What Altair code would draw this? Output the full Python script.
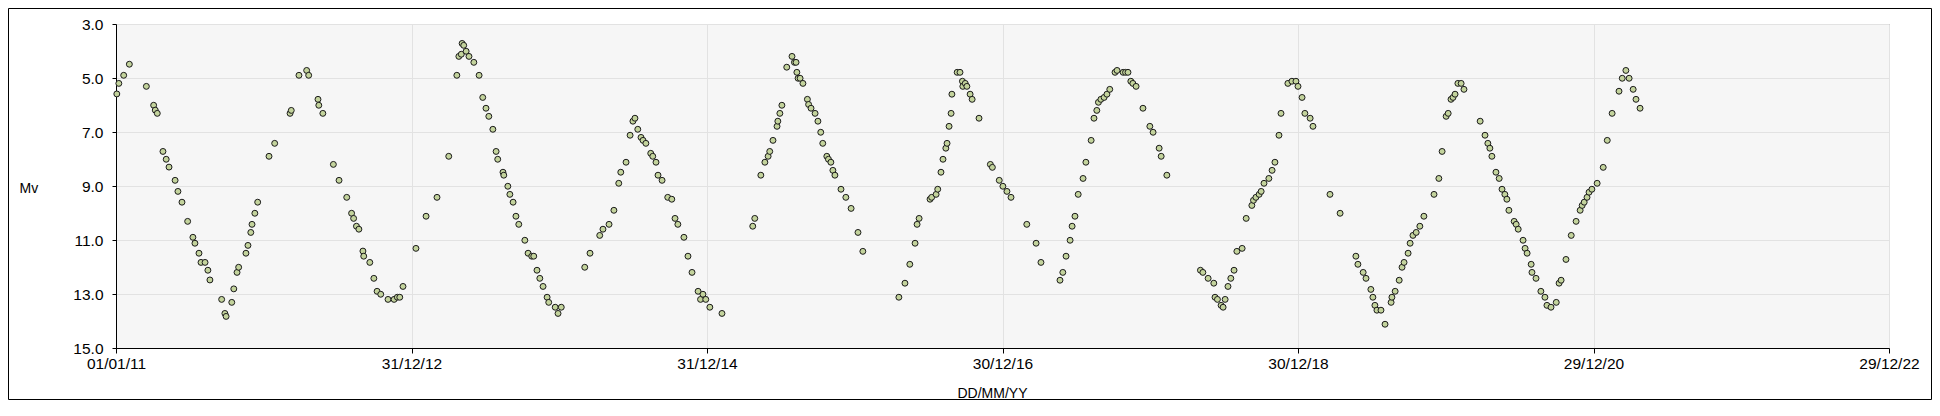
import altair as alt
import pandas as pd

# Observation epochs: days after 01/01/2011, with visual magnitude Mv
days_2011 = [2, 7, 19, 33, 75, 93, 97, 102, 116, 124, 131, 146, 153, 163, 177, 190, 195, 205, 210, 220,
             227, 232, 261, 269, 272, 286, 291, 299, 303, 321, 326, 333, 336, 343, 350, 378, 392, 430, 433,
             452, 471, 476, 499, 501, 511]
mags_2011 = [5.59, 5.20, 4.90, 4.49, 5.31, 6.01, 6.19, 6.31, 7.72, 8.01, 8.30, 8.79, 9.20, 9.60, 10.31,
             10.90, 11.12, 11.49, 11.83, 11.83, 12.12, 12.48, 13.20, 13.72, 13.83, 13.31, 12.81, 12.20,
             12.01, 11.49, 11.20, 10.72, 10.42, 10.01, 9.60, 7.90, 7.42, 6.31, 6.20, 4.90, 4.72, 4.90,
             5.79, 6.01, 6.31]

days_2012 = [537, 551, 570, 582, 587, 594, 600, 610, 612, 627, 637, 645, 654, 672, 687, 695, 701, 709,
             741, 766, 793, 822, 842, 847, 853, 855, 859, 865, 872, 884, 897, 906, 914, 921, 931, 939,
             943, 956, 958, 968, 973, 981, 988, 995, 1010, 1018, 1027, 1032, 1040, 1047, 1055, 1065, 1069]
mags_2012 = [8.20, 8.79, 9.42, 10.01, 10.20, 10.49, 10.60, 11.41, 11.60, 11.83, 12.42, 12.90, 13.01,
             13.20, 13.20, 13.12, 13.12, 12.72, 11.31, 10.12, 9.42, 7.90, 4.90, 4.20, 4.12, 3.72, 3.79,
             4.01, 4.20, 4.42, 4.90, 5.72, 6.12, 6.42, 6.90, 7.72, 8.01, 8.49, 8.60, 9.01, 9.31, 9.60,
             10.12, 10.42, 11.01, 11.49, 11.60, 11.60, 12.12, 12.42, 12.72, 13.12, 13.31]

days_2014 = [1085, 1092, 1100, 1158, 1171, 1195, 1203, 1218, 1230, 1242, 1247, 1260, 1270, 1277, 1282,
             1289, 1297, 1302, 1309, 1321, 1326, 1334, 1339, 1349, 1363, 1373, 1381, 1388, 1403, 1413,
             1423, 1438, 1444, 1450, 1457, 1467, 1497, 1573, 1578, 1593, 1603, 1611]
mags_2014 = [13.49, 13.72, 13.49, 12.01, 11.49, 10.83, 10.60, 10.42, 9.90, 8.90, 8.49, 8.12, 7.12, 6.60,
             6.49, 6.90, 7.20, 7.31, 7.42, 7.79, 7.90, 8.12, 8.60, 8.79, 9.42, 9.49, 10.20, 10.42, 10.90,
             11.60, 12.20, 12.90, 13.20, 13.01, 13.20, 13.49, 13.72, 10.49, 10.20, 8.60, 8.12, 7.90]

days_2015 = [1615, 1623, 1633, 1635, 1640, 1645, 1657, 1670, 1676, 1680, 1682, 1685, 1690, 1697, 1708,
             1711, 1717, 1727, 1734, 1741, 1746, 1756, 1760, 1766, 1771, 1776, 1791, 1803, 1816, 1833,
             1845, 1934, 1949, 1961, 1974, 1979, 1984, 2011, 2015, 2026, 2030, 2038, 2043, 2050, 2053,
             2058, 2063, 2065, 2078, 2085, 2091, 2092, 2098, 2102, 2110, 2115, 2132]
mags_2015 = [7.72, 7.31, 6.79, 6.60, 6.31, 6.01, 4.60, 4.20, 4.42, 4.42, 4.79, 5.01, 5.01, 5.20, 5.79,
             5.98, 6.12, 6.31, 6.60, 7.01, 7.42, 7.90, 8.01, 8.12, 8.42, 8.60, 9.12, 9.42, 9.83, 10.72,
             11.42, 13.12, 12.60, 11.90, 11.12, 10.42, 10.20, 9.49, 9.42, 9.31, 9.12, 8.49, 8.01, 7.60,
             7.42, 6.79, 6.31, 5.60, 4.79, 4.79, 5.12, 5.31, 5.20, 5.31, 5.60, 5.79, 6.49]

days_2017 = [2160, 2165, 2182, 2191, 2201, 2211, 2250, 2273, 2285, 2332, 2339, 2347, 2357, 2362, 2369,
             2377, 2389, 2396, 2409, 2416, 2423, 2427, 2433, 2441, 2448, 2455, 2468, 2473, 2488, 2494,
             2500, 2507, 2512, 2520, 2537, 2554, 2562, 2577, 2582, 2596, 2679, 2685, 2698]
mags_2017 = [8.20, 8.31, 8.79, 9.01, 9.20, 9.42, 10.42, 11.12, 11.83, 12.49, 12.20, 11.60, 11.01, 10.49,
             10.12, 9.31, 8.72, 8.12, 7.31, 6.49, 6.20, 5.90, 5.79, 5.72, 5.60, 5.42, 4.79, 4.72, 4.79,
             4.79, 4.79, 5.12, 5.20, 5.31, 6.12, 6.79, 7.01, 7.60, 7.90, 8.60, 12.12, 12.20, 12.42]

days_2018 = [2712, 2715, 2721, 2730, 2735, 2740, 2747, 2754, 2762, 2769, 2782, 2792, 2806, 2810, 2816,
             2824, 2829, 2836, 2848, 2856, 2863, 2873, 2878, 2895, 2905, 2915, 2920, 2930, 2937, 2950,
             2957, 2999, 3024, 3063, 3068, 3081, 3088, 3100, 3105, 3110, 3115, 3125, 3135, 3150, 3152,
             3160, 3170, 3177, 3182, 3192, 3197, 3204, 3212, 3221, 3231]
mags_2018 = [12.60, 13.12, 13.20, 13.42, 13.49, 13.20, 12.72, 12.42, 12.12, 11.42, 11.31, 10.20, 9.72,
             9.53, 9.42, 9.31, 9.20, 8.90, 8.72, 8.42, 8.12, 7.12, 6.31, 5.20, 5.12, 5.12, 5.31, 5.72,
             6.31, 6.49, 6.79, 9.31, 10.01, 11.60, 11.90, 12.20, 12.42, 12.83, 13.12, 13.42, 13.60, 13.60,
             14.12, 13.31, 13.12, 12.90, 12.49, 12.01, 11.83, 11.49, 11.12, 10.83, 10.72, 10.49, 10.12]

days_2019 = [3256, 3268, 3276, 3286, 3291, 3298, 3303, 3308, 3315, 3323, 3330, 3370, 3382, 3389, 3394,
             3399, 3409, 3417, 3424, 3431, 3436, 3441, 3454, 3459, 3464, 3476, 3481, 3486, 3496, 3498,
             3508, 3520, 3530, 3535, 3545, 3558, 3565, 3570, 3582, 3595, 3607, 3617, 3622, 3627, 3634,
             3639, 3646, 3659, 3674, 3684, 3696, 3713, 3721, 3730, 3738, 3748, 3755, 3765]
mags_2019 = [9.31, 8.72, 7.72, 6.42, 6.31, 5.79, 5.72, 5.60, 5.20, 5.20, 5.42, 6.60, 7.12, 7.42, 7.60,
             7.90, 8.49, 8.72, 9.12, 9.31, 9.49, 9.90, 10.31, 10.42, 10.60, 11.01, 11.31, 11.49, 11.90,
             12.20, 12.42, 12.90, 13.12, 13.42, 13.49, 13.31, 12.60, 12.49, 11.72, 10.83, 10.31, 9.90,
             9.72, 9.60, 9.42, 9.23, 9.12, 8.90, 8.31, 7.31, 6.31, 5.49, 5.01, 4.72, 5.01, 5.42, 5.79,
             6.12]

tick_dates = ["2011-01-01", "2012-12-31", "2014-12-31", "2016-12-30",
              "2018-12-30", "2020-12-29", "2022-12-29"]
mag_ticks = [3, 5, 7, 9, 11, 13, 15]

all_days = days_2011 + days_2012 + days_2014 + days_2015 + days_2017 + days_2018 + days_2019
all_mags = mags_2011 + mags_2012 + mags_2014 + mags_2015 + mags_2017 + mags_2018 + mags_2019

base = pd.Timestamp("2011-01-01")
df = pd.DataFrame({
    "date": (base + pd.to_timedelta(all_days, unit="D")).strftime("%Y-%m-%d"),
    "Mv": all_mags,
})


def dt(s):
    t = pd.Timestamp(s)
    return alt.DateTime(year=t.year, month=t.month, date=t.day, utc=True)


FONT = "Liberation Sans"

points = alt.Chart(df).mark_circle(
    size=35, fill="#c3d39c", stroke="#1a1a1a", strokeWidth=1, opacity=1, fillOpacity=1
).encode(
    x=alt.X("date:T",
            scale=alt.Scale(type="utc", domain=[dt(tick_dates[0]), dt(tick_dates[-1])], nice=False),
            axis=alt.Axis(values=[dt(s) for s in tick_dates], format="%d/%m/%y",
                          title="DD/MM/YY", titleX=876, titleY=49, titleAlign="center",
                          titleBaseline="alphabetic", tickSize=5, labelPadding=3,
                          labelFlush=False, labelOverlap=False, labelBound=False)),
    y=alt.Y("Mv:Q",
            scale=alt.Scale(domain=[3, 15], reverse=True, nice=False, zero=False),
            axis=alt.Axis(values=mag_ticks, format=".1f", title="Mv", titleAngle=0,
                          titleX=-97, titleY=168, titleAlign="left", titleBaseline="alphabetic",
                          tickSize=4, labelPadding=9, labelFlush=False, labelOverlap=False,
                          labelBound=False)),
)

frame = alt.Chart(pd.DataFrame({"k": [0]})).mark_rect(
    fillOpacity=0, stroke="black", strokeWidth=1
).encode(
    x=alt.value(-107.5), x2=alt.value(1815.5), y=alt.value(-15.5), y2=alt.value(375.5)
)

chart = alt.layer(points, frame).properties(
    width=1773, height=324,
    autosize=alt.AutoSizeParams(type="none"),
    padding={"left": 108, "top": 16, "right": 43, "bottom": 52},
    background="white",
).configure_view(
    fill="#f6f6f6", stroke="#808080", strokeWidth=1
).configure_axis(
    domainColor="black", tickColor="black", gridColor="#e2e2e2", grid=True,
    labelFont=FONT, labelFontSize=15.5, labelColor="black",
    titleFont=FONT, titleFontSize=14, titleFontWeight="normal", titleColor="black",
)

chart.save("out.html", embed_options={"renderer": "svg", "actions": False})
